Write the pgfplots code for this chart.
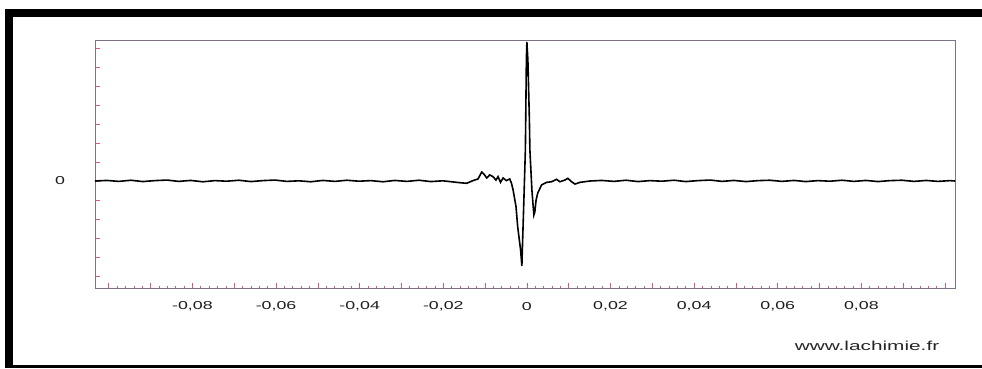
\documentclass[border=0pt]{standalone}
\usepackage{graphicx}
\usepackage{fontspec}
\setmainfont{Liberation Sans}
\usepackage{pgfplots}
\pgfplotsset{compat=1.18}
\definecolor{axgray}{RGB}{125,112,135}
\definecolor{tickpink}{RGB}{215,90,120}
\newcommand{\sx}[1]{\scalebox{1.55}[1]{#1}}
\begin{document}
\begin{tikzpicture}[x=0.75pt,y=0.75pt]
\useasboundingbox (0,0) rectangle (982,368);
\fill[white] (0,0) rectangle (982,368);
% black frame
\fill[black] (5,0) rectangle (13,359);
\fill[black] (5,351) rectangle (982,359);
\fill[black] (5,0) rectangle (982,3);
\begin{axis}[
  at={(71.25pt,60pt)}, anchor=south west,
  scale only axis, width=645pt, height=186pt,
  xmin=-0.1033, xmax=0.1024,
  ymin=-5.63, ymax=7.42,
  axis line style={draw=axgray, line width=0.6pt},
  xtick={-0.10,-0.09,-0.08,-0.07,-0.06,-0.05,-0.04,-0.03,-0.02,-0.01,0,0.01,0.02,0.03,0.04,0.05,0.06,0.07,0.08,0.09,0.10},
  xticklabels={,,\sx{-0,08},,\sx{-0,06},,\sx{-0,04},,\sx{-0,02},,\sx{0},,\sx{0,02},,\sx{0,04},,\sx{0,06},,\sx{0,08},,},
  minor x tick num=4,
  ytick={-5,-4,-3,-2,-1,0,1,2,3,4,5,6,7},
  yticklabels={,,,,,\sx{0},,,,,,,},
  xtick pos=lower, ytick pos=left,
  tick align=inside,
  major tick length=3.75pt, minor tick length=1.6pt,
  every tick/.style={draw=tickpink, line width=0.5pt},
  xticklabel style={anchor=center, inner sep=0pt, yshift=-14pt, font=\fontsize{8.6}{10}\selectfont, text=black!88},
  yticklabel style={anchor=center, inner sep=0pt, xshift=-26.25pt, font=\fontsize{8.6}{10}\selectfont, text=black!88},
  scaled x ticks=false,
  clip=false,
]
\addplot[black, line width=1.2pt] coordinates {
(-0.1033,0.00) (-0.1005,0.03) (-0.0976,-0.02) (-0.0947,0.04) (-0.0919,-0.03)
(-0.0890,0.02) (-0.0861,0.05) (-0.0833,-0.02) (-0.0804,0.03) (-0.0775,-0.04)
(-0.0746,0.02) (-0.0718,-0.01) (-0.0689,0.04) (-0.0660,-0.03) (-0.0632,0.02)
(-0.0603,0.05) (-0.0574,-0.02) (-0.0545,0.01) (-0.0517,-0.04) (-0.0488,0.03)
(-0.0459,-0.02) (-0.0431,0.04) (-0.0402,-0.01) (-0.0373,0.02) (-0.0344,-0.04)
(-0.0316,0.03) (-0.0287,-0.02) (-0.0258,0.04) (-0.0230,-0.03) (-0.0201,0.01)
(-0.0172,-0.06) (-0.0160,-0.09) (-0.0144,-0.12) (-0.0129,0.02) (-0.0117,0.105)
(-0.0108,0.47) (-0.0103,0.37) (-0.0096,0.16) (-0.0089,0.32) (-0.0081,0.23)
(-0.0074,0.05) (-0.0069,0.23) (-0.0063,-0.07) (-0.0057,0.16) (-0.0049,0.02)
(-0.0041,0.105) (-0.0037,-0.105) (-0.0033,-0.47) (-0.0026,-1.35) (-0.0022,-2.41)
(-0.0015,-3.63) (-0.0012,-4.47) (-0.00072,-1.0) (-0.00036,1.63) (-0.00012,6.37)
(0,7.32) (0.00024,6.37) (0.0006,3.21) (0.00072,1.63) (0.0012,-0.47)
(0.00167,-1.79) (0.0019,-1.63) (0.0022,-1.0) (0.0026,-0.63) (0.0035,-0.21)
(0.0047,-0.07) (0.0059,-0.04) (0.0071,0.09) (0.0079,-0.04) (0.0091,0.05)
(0.0098,0.14) (0.0107,-0.04) (0.0115,-0.16) (0.0127,-0.07) (0.0151,0.00)
(0.0179,0.03) (0.0208,-0.02) (0.0237,0.04) (0.0266,-0.03) (0.0294,0.02)
(0.0323,-0.01) (0.0352,0.04) (0.0380,-0.03) (0.0409,0.02) (0.0438,0.05)
(0.0467,-0.02) (0.0495,0.03) (0.0524,-0.03) (0.0553,0.02) (0.0581,0.04)
(0.0610,-0.02) (0.0639,0.03) (0.0667,-0.03) (0.0696,0.02) (0.0725,-0.01)
(0.0754,0.04) (0.0782,-0.02) (0.0811,0.03) (0.0840,-0.03) (0.0868,0.02)
(0.0897,0.04) (0.0926,-0.02) (0.0955,0.03) (0.0983,-0.02) (0.1012,0.02)
(0.1024,0.00)
};
\end{axis}
\node[anchor=center, inner sep=0pt, text=black!85, font=\fontsize{9.75}{11}\selectfont] at (867,22) {\scalebox{1.6}[1]{www.lachimie.fr}};
\end{tikzpicture}
\end{document}
